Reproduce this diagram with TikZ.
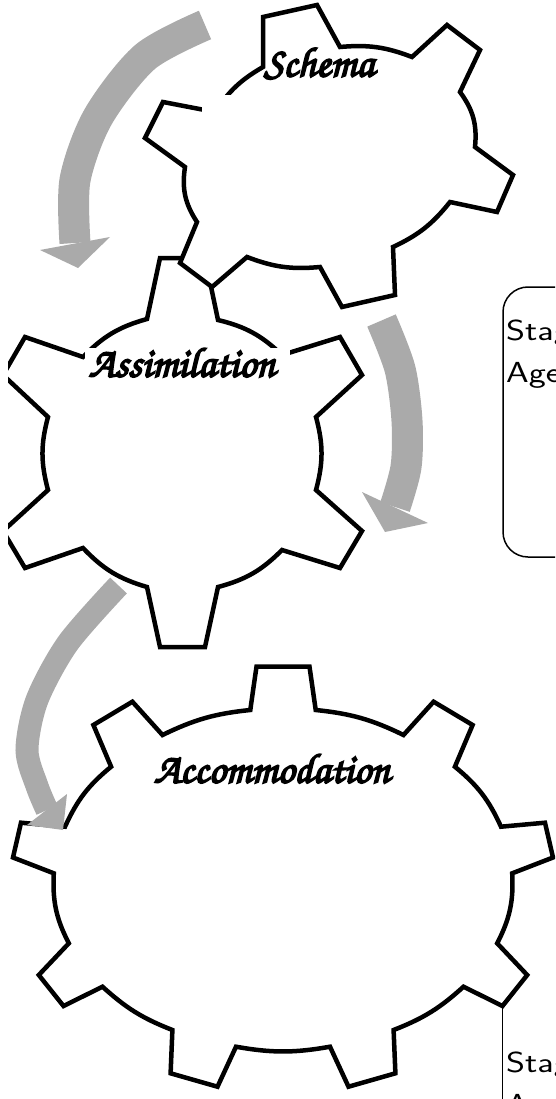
\documentclass[tikz,border=0pt]{standalone}
\usepackage[T1,TU]{fontenc}
\usepackage{graphicx}
\definecolor{arrowgray}{RGB}{170,170,170}
\newcommand\chancery{\fontencoding{T1}\fontfamily{pzc}\fontseries{mb}\fontshape{it}\selectfont}
\newcommand\fakebold[1]{\special{pdf:literal direct 2 Tr 1.7 w}#1\special{pdf:literal direct 0 Tr}}
\newcommand\widehand[1]{\scalebox{1.25}[1]{#1}}
\tikzset{
  gear/.style={draw=black, line width=4.5pt, fill=white, line join=miter},
  garrow/.style={draw=arrowgray, line width=31pt},
  garrowthin/.style={draw=arrowgray, line width=23pt},
  ghead/.style={fill=arrowgray, draw=none},
  title/.style={inner sep=0pt, font=\chancery\fontsize{42}{50}\selectfont},
  hand/.style={inner sep=0pt, anchor=base west, font=\sffamily\fontsize{29}{34}\selectfont},
  infobox/.style={draw=black, line width=1.5pt, rounded corners=25pt},
  infoline/.style={draw=black, line width=1.5pt},
  blank/.style={fill=white, draw=none}
}
\begin{document}
\begin{tikzpicture}[x=1pt,y=-1pt]
\useasboundingbox (0,0) rectangle (555,1099);
\clip (8,0) rectangle (555,1099);

% arrow 1
\coordinate (a1s) at (205,25);
\coordinate (a1e) at (75,243);
\draw[garrow] plot[smooth] coordinates {(a1s) (145,57) (98,117) (75,180) (a1e)};
\fill[ghead] (40,250) -- (110,237) -- (78,268) -- cycle;

% right info box
\draw[infobox] (503,287) rectangle (640,557);
\node[hand] (stage1) at (506,340) {\widehand{Stage}};
\node[hand] (age1) at (506,382) {\widehand{Age}};

% Assimilation gear
\draw[gear] (153.5,288.5) -- (160,258) -- (205,258) -- (218,320)
  to[bend left=15] (282,355) -- (340,337) -- (362,375) -- (316,417)
  to[bend left=15] (316,490) -- (362,531) -- (340,568) -- (282,550)
  to[bend left=15] (218,587) -- (205,647) -- (160,647) -- (147,587)
  to[bend left=15] (83,548) -- (25,568) -- (3,531) -- (48,490)
  to[bend left=15] (48,417) -- (3,375) -- (25,337) -- (83,357)
  to[bend left=15] (147,319) -- cycle;
\fill[blank] (85,348) rectangle (290,540);
\node[title] (assim) at (182,362) {\fakebold{Assimilation}};

% Schema gear
\draw[gear] (263,40) -- (263,17) -- (317,5) -- (340,47)
  to[bend left=13] (412,57) -- (447,25) -- (480,50) -- (460,92)
  to[bend left=21] (475,147) -- (513,175) -- (497,212) -- (450,202)
  to[bend left=13] (393,247) -- (395,295) -- (342,307) -- (320,267)
  to[bend left=13] (247,257) -- (212,287) -- (180,263) -- (197,222)
  to[bend left=21] (185,167) -- (145,138) -- (163,102) -- (215,112)
  to[bend left=13] (263,67) -- cycle;
\fill[blank] (202,95) rectangle (430,195);
\node[title] (schema) at (319,63) {\fakebold{Schema}};

% lower info box edge
\coordinate (lrtip) at (502.5,1006);
\coordinate (boxfoot) at (502.5,1099);
\draw[infoline] (lrtip) -- (boxfoot);
\node[hand] (stage2) at (506,1072) {\widehand{Stage}};
\node[hand] (age2) at (506,1114) {\widehand{Age}};

% Accommodation gear
\draw[gear] (253.4,688) -- (256.5,666.7) -- (309.5,666.7) -- (315.7,710)
  to[bend left=10] (403.5,735) -- (433.6,701.7) -- (472.6,725) -- (454.9,766.7)
  to[bend left=13] (501,826.7) -- (545,822.7) -- (553,857.5) -- (512.2,873.3)
  to[bend left=15] (497.2,943.3) -- (527.2,975) -- (lrtip) -- (463.5,986.7)
  to[bend left=10.4] (393.6,1030) -- (395.4,1073.3) -- (348.5,1086.7) -- (330,1046.7)
  to[bend left=10] (236,1046.7) -- (217.5,1086.7) -- (170.6,1073.3) -- (172.4,1030)
  to[bend left=10.4] (102.5,986.7) -- (63.5,1006) -- (38.8,975) -- (68.8,943.3)
  to[bend left=15] (53.8,873.3) -- (13,857.5) -- (21,822.7) -- (65,826.7)
  to[bend left=13] (111.1,766.7) -- (93.4,725) -- (132.4,701.7) -- (162.5,735)
  to[bend left=10] (250.3,710) -- cycle;
\node[title] (accom) at (272,768) {\fakebold{Accommodation}};

% arrow 2
\coordinate (a2s) at (381.5,320.5);
\coordinate (a2e) at (395,507);
\draw[garrow] plot[smooth] coordinates {(a2s) (400,369) (407,421) (406,467) (a2e)};
\fill[ghead] (362,492) -- (428,523) -- (385,532) -- cycle;

% arrow 3
\coordinate (a3s) at (118.5,585.5);
\coordinate (a3e) at (47,810);
\draw[garrowthin] plot[smooth] coordinates {(a3s) (68,643) (37,700) (27,750) (37,786) (a3e)};
\fill[ghead] (67,794) -- (27,825) -- (63,830) -- cycle;
\end{tikzpicture}
\end{document}
